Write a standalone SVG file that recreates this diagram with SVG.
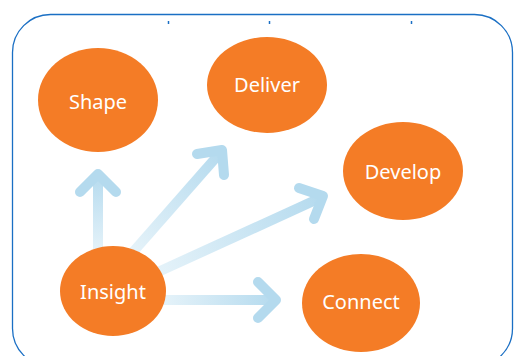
<svg xmlns="http://www.w3.org/2000/svg" width="514" height="356" viewBox="0 0 514 356">
<defs>
<style>
.node{fill:#f47c26}
.lbl{fill:#fff;font-family:"Noto Sans","Open Sans",sans-serif;font-size:20px;text-anchor:middle;dominant-baseline:central}
.shaft{fill:none;stroke-width:10;stroke-linecap:butt}
.head{fill:none;stroke-width:10;stroke-linecap:round;stroke-linejoin:round}
.tick{stroke:#1a6fc4;stroke-width:1.5}
</style>
<linearGradient id="g1" gradientUnits="userSpaceOnUse" x1="98" y1="250" x2="98" y2="172"><stop offset="0" stop-color="#e4f2f9"/><stop offset="1" stop-color="#b4daee"/></linearGradient>
<linearGradient id="g2" gradientUnits="userSpaceOnUse" x1="135" y1="250" x2="223" y2="150"><stop offset="0" stop-color="#e4f2f9"/><stop offset="1" stop-color="#b4daee"/></linearGradient>
<linearGradient id="g3" gradientUnits="userSpaceOnUse" x1="160" y1="270" x2="323" y2="196"><stop offset="0" stop-color="#e4f2f9"/><stop offset="1" stop-color="#b4daee"/></linearGradient>
<linearGradient id="g4" gradientUnits="userSpaceOnUse" x1="166" y1="300" x2="277" y2="300"><stop offset="0" stop-color="#e4f2f9"/><stop offset="1" stop-color="#b4daee"/></linearGradient>
</defs>
<rect x="12.5" y="14.5" width="500" height="352" rx="38" ry="38" fill="none" stroke="#1a6fc4" stroke-width="1.3"/>
<line class="tick" x1="168.5" y1="21" x2="168.5" y2="24"/>
<line class="tick" x1="269.5" y1="21" x2="269.5" y2="24"/>
<line class="tick" x1="411.5" y1="21" x2="411.5" y2="24"/>
<g id="connectors">
<line class="shaft" x1="98" y1="252" x2="98" y2="176" stroke="url(#g1)"/>
<polyline class="head" points="80,192 98,174 116,192" stroke="#b4daee"/>
<line class="shaft" x1="133" y1="252" x2="220" y2="153" stroke="url(#g2)"/>
<polyline class="head" points="197,154 222,150 224,175" stroke="#b4daee"/>
<line class="shaft" x1="158" y1="272" x2="320" y2="198" stroke="url(#g3)"/>
<polyline class="head" points="299,188 323,196 314,219" stroke="#b4daee"/>
<line class="shaft" x1="164" y1="300" x2="274" y2="300" stroke="url(#g4)"/>
<polyline class="head" points="258,282 276,300 258,318" stroke="#b4daee"/>
</g>
<g id="shape"><ellipse class="node" cx="98" cy="100" rx="60" ry="52"/><text class="lbl" x="98" y="101">Shape</text></g>
<g id="deliver"><ellipse class="node" cx="267" cy="85" rx="60" ry="48"/><text class="lbl" x="267" y="84">Deliver</text></g>
<g id="develop"><ellipse class="node" cx="403" cy="171" rx="60" ry="49"/><text class="lbl" x="403" y="171">Develop</text></g>
<g id="insight"><ellipse class="node" cx="113" cy="291" rx="53" ry="45"/><text class="lbl" x="113" y="291">Insight</text></g>
<g id="connect"><ellipse class="node" cx="361" cy="303" rx="59" ry="49"/><text class="lbl" x="361" y="301">Connect</text></g>
</svg>
